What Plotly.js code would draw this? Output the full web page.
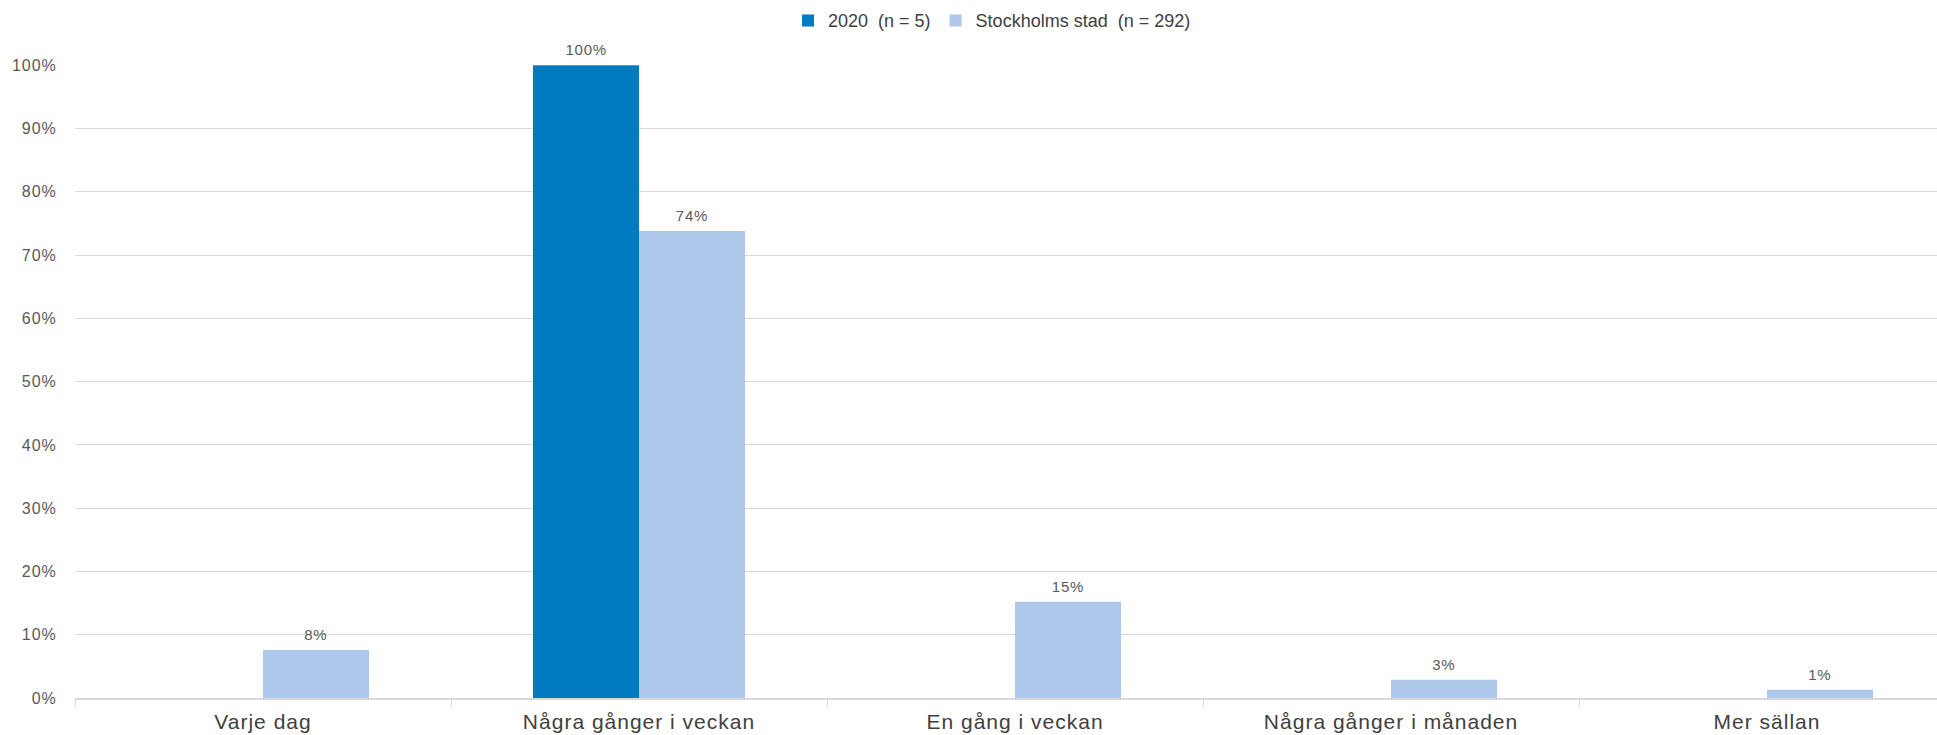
<!DOCTYPE html>
<html>
<head>
<meta charset="utf-8">
<script src="https://cdn.plot.ly/plotly-3.0.1.min.js"></script>
<style>
html,body{margin:0;padding:0;background:#fff;}
#chart{width:1937px;height:735px;}
#chart .xtick text{letter-spacing:1px;}
#chart .ytick text{letter-spacing:1px;}
#chart .annotation-text{letter-spacing:0.8px;}
</style>
</head>
<body>
<div id="chart"></div>
<script>
const categories = ["Varje dag", "Några gånger i veckan", "En gång i veckan", "Några gånger i månaden", "Mer sällan"];
const series2020Name = "2020  (n = 5)";
const series2020 = [null, 100, null, null, null];
const seriesStockholmName = "Stockholms stad  (n = 292)";
const seriesStockholm = [7.6, 73.8, 15.2, 2.9, 1.3];

const font = "Liberation Sans, Arial, sans-serif";
const txt = "#595959";
const bargap = 0.436;
const halfBar = (1 - bargap) / 4; // centre offset of each bar in a 2-bar group

const traces = [
  {type: "bar", name: series2020Name, x: categories, y: series2020,
   marker: {color: "#007BC2"}, hoverinfo: "skip"},
  {type: "bar", name: seriesStockholmName, x: categories, y: seriesStockholm,
   marker: {color: "#ADC8EB"}, hoverinfo: "skip"}
];

// data labels built from the series arrays
const annotations = [];
[[series2020, -halfBar], [seriesStockholm, halfBar]].forEach(([vals, off]) => {
  vals.forEach((v, i) => {
    if (v === null) return;
    annotations.push({
      xref: "x", yref: "y", x: i + off, y: v,
      text: Math.round(v) + "%", showarrow: false,
      xanchor: "center", yanchor: "bottom", yshift: 5,
      font: {family: font, size: 15, color: txt}
    });
  });
});

const layout = {
  width: 1937, height: 735,
  margin: {l: 75, r: 0, t: 65, b: 37, pad: 0},
  paper_bgcolor: "#fff", plot_bgcolor: "#fff",
  font: {family: font, color: txt},
  barmode: "group", bargap: bargap, bargroupgap: 0,
  hovermode: false,
  showlegend: true,
  legend: {
    orientation: "h", x: 0.4925, xanchor: "center",
    yref: "container", y: 0.997, yanchor: "top",
    font: {family: font, size: 18, color: "#404040"},
    itemwidth: 30, traceorder: "normal"
  },
  annotations: annotations,
  xaxis: {
    type: "category", range: [-0.5, 4.452],
    showline: true, linecolor: "#d9d9d9", linewidth: 1.5,
    ticks: "outside", tickson: "boundaries", ticklen: 7, tickcolor: "#d9d9d9",
    tickfont: {family: font, size: 21, color: "#404040"},
    ticklabelstandoff: 4,
    showgrid: false, zeroline: false
  },
  yaxis: {
    range: [0, 100.05], dtick: 10, ticksuffix: "%",
    showgrid: true, gridcolor: "#d9d9d9", gridwidth: 1,
    zeroline: false, showline: false,
    ticks: "outside", ticklen: 14, tickcolor: "rgba(0,0,0,0)",
    tickfont: {family: font, size: 16, color: txt}
  }
};

Plotly.newPlot("chart", traces, layout, {displayModeBar: false, staticPlot: true});
</script>
</body>
</html>
